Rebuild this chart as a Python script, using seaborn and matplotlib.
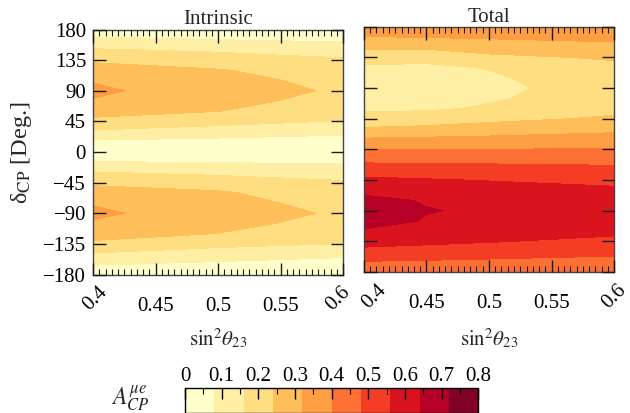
import numpy as np
import matplotlib
matplotlib.use('Agg')
import matplotlib.pyplot as plt
import matplotlib.transforms as mtransforms
import seaborn as sns
from matplotlib.colors import ListedColormap
from matplotlib.ticker import MultipleLocator, FixedLocator, NullLocator

# ---------------- data ----------------
delta_cp = list(range(-180, 181, 15))          # rows, degrees

s23_intrinsic = [0.40, 0.50, 0.60]
intr_s040 = [0.03, 0.085, 0.153, 0.225, 0.27, 0.31, 0.335, 0.315, 0.275, 0.225, 0.164, 0.085, 0.01,
             0.066, 0.149, 0.221, 0.269, 0.315, 0.335, 0.315, 0.276, 0.228, 0.168, 0.099, 0.03]
intr_s050 = [0.02, 0.065, 0.122, 0.182, 0.239, 0.257, 0.275, 0.26, 0.248, 0.21, 0.139, 0.077, 0.01,
             0.056, 0.122, 0.187, 0.241, 0.258, 0.275, 0.262, 0.245, 0.204, 0.147, 0.08, 0.02]
intr_s060 = [0.01, 0.05, 0.096, 0.158, 0.195, 0.22, 0.23, 0.22, 0.20, 0.17, 0.123, 0.0725, 0.01,
             0.045, 0.099, 0.155, 0.195, 0.22, 0.23, 0.22, 0.20, 0.17, 0.123, 0.068, 0.01]

s23_total = [0.40, 0.45, 0.50, 0.60]
tot_s040 = [0.41, 0.477, 0.538, 0.589, 0.633, 0.67, 0.70, 0.66, 0.621, 0.576, 0.521, 0.46, 0.398,
            0.328, 0.248, 0.19, 0.145, 0.11, 0.10, 0.11, 0.145, 0.194, 0.256, 0.317, 0.395]
tot_s045 = [0.41, 0.472, 0.528, 0.577, 0.619, 0.635, 0.643, 0.635, 0.61, 0.566, 0.515, 0.459, 0.40,
            0.334, 0.261, 0.195, 0.15, 0.128, 0.1225, 0.128, 0.148, 0.18, 0.255, 0.324, 0.395]
tot_s050 = [0.41, 0.466, 0.518, 0.565, 0.605, 0.625, 0.632, 0.625, 0.598, 0.556, 0.51, 0.458, 0.40,
            0.34, 0.274, 0.22, 0.168, 0.152, 0.145, 0.152, 0.163, 0.222, 0.276, 0.33, 0.395]
tot_s060 = [0.41, 0.456, 0.499, 0.54, 0.578, 0.603, 0.615, 0.603, 0.575, 0.537, 0.499, 0.456, 0.405,
            0.353, 0.30, 0.251, 0.218, 0.197, 0.19, 0.197, 0.218, 0.25, 0.295, 0.344, 0.395]

panel_titles = ["Intrinsic", "Total"]
x_ticks = [0.4, 0.45, 0.5, 0.55, 0.6]
x_ticklabels = ["0.4", "0.45", "0.5", "0.55", "0.6"]
y_ticks = [-180, -135, -90, -45, 0, 45, 90, 135, 180]
cbar_ticks = [0, 0.1, 0.2, 0.3, 0.4, 0.5, 0.6, 0.7, 0.8]
cbar_ticklabels = ["0", "0.1", "0.2", "0.3", "0.4", "0.5", "0.6", "0.7", "0.8"]

# ---------------- style ----------------
sns.set_theme(style="ticks")
plt.rcParams['font.family'] = ['Liberation Serif', 'DejaVu Serif']
plt.rcParams['mathtext.fontset'] = 'stix'
plt.rcParams['axes.unicode_minus'] = True
plt.rcParams['axes.axisbelow'] = False

levels = np.linspace(0, 0.8, 11)
cmap = ListedColormap(plt.get_cmap('YlOrRd')(np.linspace(0, 1, 10)))

W, H = 630, 413
fig = plt.figure(figsize=(W / 100, H / 100), dpi=100)

def px_axes(x0, y0, x1, y1):
    return fig.add_axes([x0 / W, 1 - y1 / H, (x1 - x0) / W, (y1 - y0) / H])

ax1 = px_axes(93, 29.5, 343, 274.5)
ax2 = px_axes(364, 26.7, 614, 272)

Z_intr = np.column_stack([intr_s040, intr_s050, intr_s060])
Z_tot = np.column_stack([tot_s040, tot_s045, tot_s050, tot_s060])

cs1 = ax1.contourf(s23_intrinsic, delta_cp, Z_intr, levels=levels, cmap=cmap, vmin=0, vmax=0.8)
cs2 = ax2.contourf(s23_total, delta_cp, Z_tot, levels=levels, cmap=cmap, vmin=0, vmax=0.8)

# horizontal pixel offsets of the rotated end labels (first, last) per panel
rot_shift = {0: (2, -5), 1: (10, 0)}

for i, (ax, title) in enumerate(zip([ax1, ax2], panel_titles)):
    ax.set_axisbelow(False)
    ax.set_xlim(0.4, 0.6)
    ax.set_ylim(-180, 180)
    ax.xaxis.set_major_locator(FixedLocator(x_ticks))
    ax.set_xticklabels(x_ticklabels)
    ax.xaxis.set_minor_locator(MultipleLocator(0.005))
    ax.yaxis.set_major_locator(FixedLocator(y_ticks))
    ax.yaxis.set_minor_locator(NullLocator())
    ax.tick_params(which='both', direction='in', top=True, right=True, colors='#1a1a1a',
                   labelcolor='black', labelsize=15)
    ax.tick_params(which='major', length=9, width=1.0, pad=5)
    ax.tick_params(which='minor', length=4.5, width=0.8)
    ax.tick_params(axis='x', pad=16)
    labs = ax.get_xticklabels()
    for lab, dx in ((labs[0], rot_shift[i][0]), (labs[-1], rot_shift[i][1])):
        lab.set_rotation(45)
        lab.set_transform(lab.get_transform() +
                          mtransforms.ScaledTranslation(dx / 100, 14 / 100, fig.dpi_scale_trans))
    for sp in ax.spines.values():
        sp.set_color('#444444')
        sp.set_linewidth(1.0)
    ax.set_title(title, fontsize=15, pad=1.5)
    ax.set_xlabel(r'$\sin^2\!\theta_{23}$', fontsize=15)

ax1.xaxis.set_label_coords(0.5, -0.215)
ax2.xaxis.set_label_coords(0.5, -0.225)
ax2.tick_params(axis='y', labelleft=False)
fig.text(22 / W, 1 - 153 / H, 'δ$_{\\rm CP}$ [Deg.]', rotation=90, fontsize=17.5,
         ha='center', va='center')

# ---------------- colorbar ----------------
cax = px_axes(185, 388.3, 478.3, 413)
cb = fig.colorbar(cs1, cax=cax, orientation='horizontal', ticks=cbar_ticks)
cb.ax.set_xticklabels(cbar_ticklabels)
cb.ax.xaxis.set_ticks_position('top')
cb.ax.xaxis.set_minor_locator(MultipleLocator(0.05))
cb.ax.set_axisbelow(False)
cb.ax.tick_params(which='both', direction='in', top=True, bottom=False, labeltop=True,
                  labelbottom=False, labelsize=15, colors='black')
cb.ax.tick_params(which='major', length=8, width=1, pad=1.5)
cb.ax.tick_params(which='minor', length=4.5, width=0.8)
cb.outline.set_linewidth(1.0)
cb.outline.set_edgecolor('black')
fig.text(130 / W, 1 - 398 / H, r'$A_{CP}^{\mu e}$', fontsize=17, ha='center', va='center')

fig.savefig('out.png', dpi=100)
